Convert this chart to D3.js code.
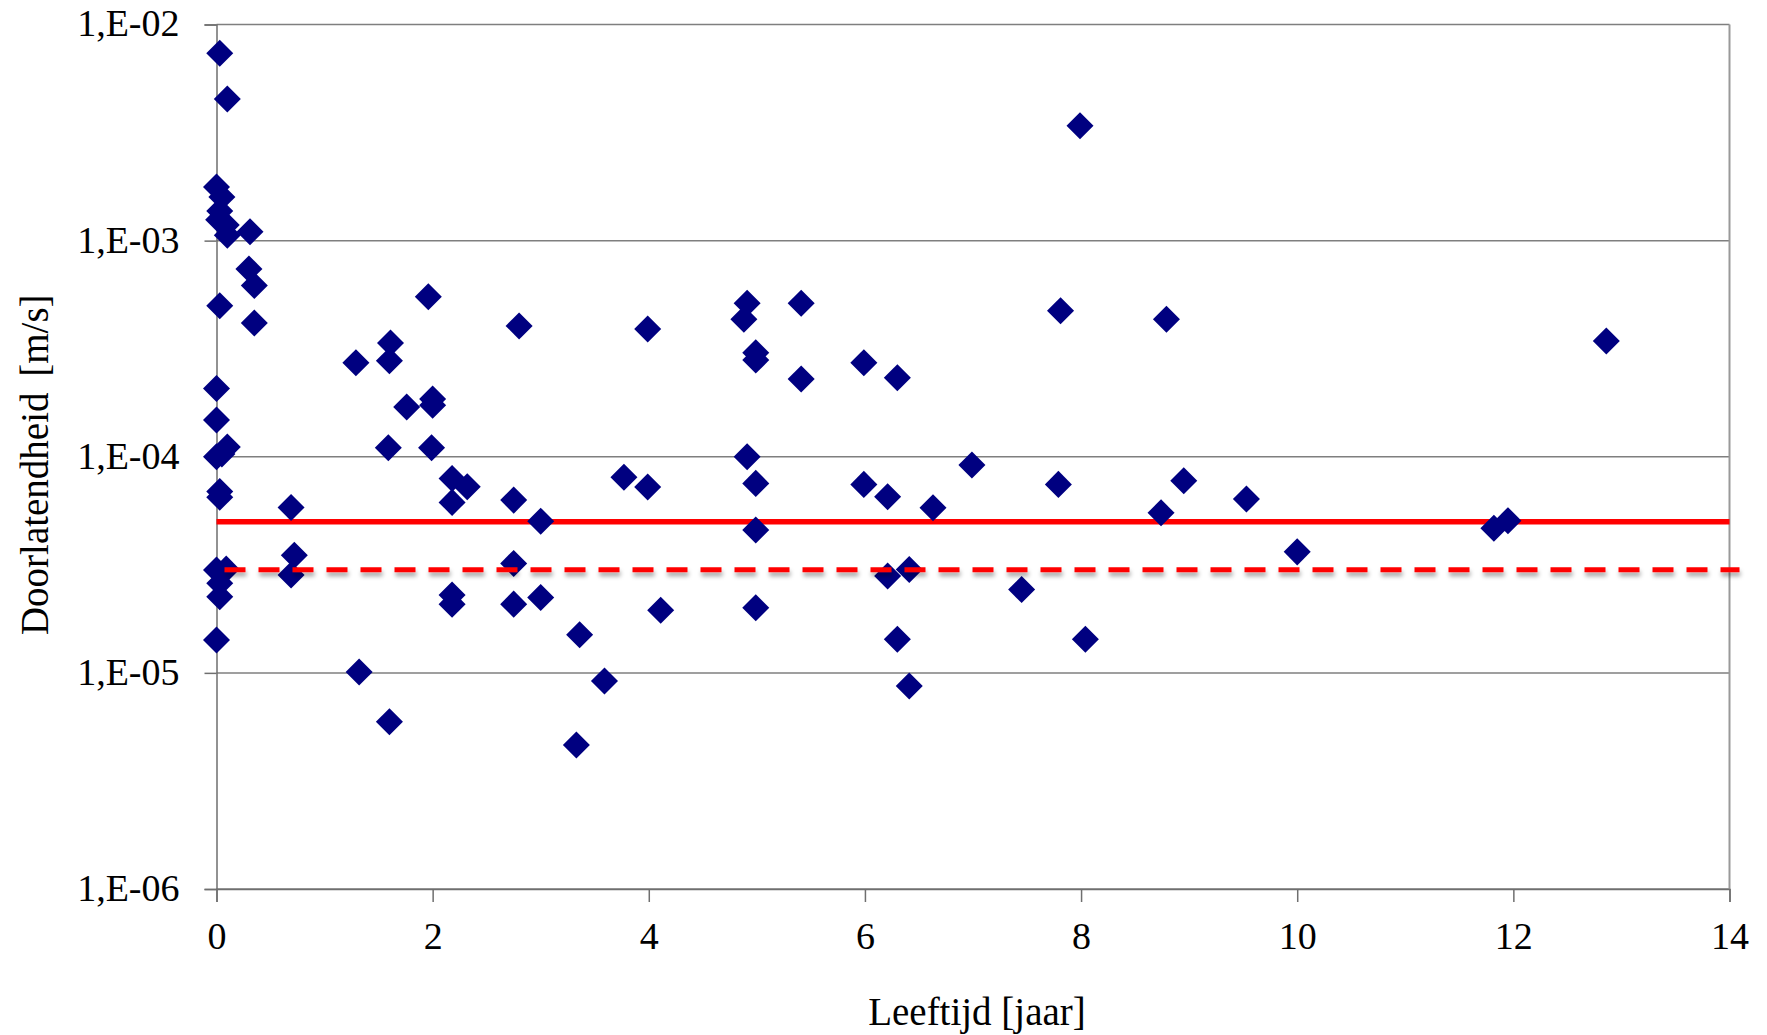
<!DOCTYPE html>
<html>
<head>
<meta charset="utf-8">
<script src="https://cdn.jsdelivr.net/npm/d3@7"></script>
<style>
  body { margin: 0; background: #fff; }
  text { font-family: "Liberation Serif", "Times New Roman", serif; fill: #000; }
</style>
</head>
<body>
<div class="chart"></div>
<script>
// measurements: age (jaar) and permeability (m/s)
const ages = [
  0.03, 0.10, 7.99, 0.00, 0.05, 0.03, 0.02, 0.09, 0.10, 0.31,
  0.30, 0.35, 0.03, 0.35, 1.96, 2.80, 1.61, 1.29, 1.60, 0.00,
  0.00, 1.76, 2.00, 2.00, 1.59, 1.99, 0.00, 0.10, 0.05, 0.03,
  0.03, 0.69, 2.18, 2.32, 2.18, 2.75, 3.00, 0.72, 0.69, 0.00,
  0.09, 0.03, 0.03, 2.75, 2.18, 2.18, 2.75, 3.00, 3.36, 0.00,
  1.32, 1.60, 3.33, 3.99, 4.91, 4.88, 5.41, 7.81, 8.79, 4.99,
  4.99, 5.41, 5.99, 6.30, 4.91, 3.77, 3.99, 4.99, 5.99, 6.21,
  6.63, 6.99, 7.79, 8.74, 8.95, 4.99, 6.21, 6.41, 7.45, 4.11,
  4.99, 6.30, 8.04, 3.59, 6.41, 12.86, 9.53, 11.82, 11.95, 10.00,
];
const permeability = [
  7.36e-3, 4.52e-3, 3.40e-3, 1.77e-3, 1.59e-3, 1.37e-3, 1.25e-3, 1.18e-3, 1.06e-3, 1.10e-3,
  7.4e-4, 6.2e-4, 5.0e-4, 4.16e-4, 5.5e-4, 4.03e-4, 3.36e-4, 2.72e-4, 2.78e-4, 2.07e-4,
  1.48e-4, 1.70e-4, 1.85e-4, 1.73e-4, 1.10e-4, 1.10e-4, 1.00e-4, 1.11e-4, 1.03e-4, 6.9e-5,
  6.5e-5, 5.83e-5, 7.94e-5, 7.26e-5, 6.15e-5, 6.3e-5, 5.03e-5, 3.5e-5, 2.84e-5, 2.99e-5,
  3.02e-5, 2.6e-5, 2.25e-5, 3.21e-5, 2.29e-5, 2.08e-5, 2.08e-5, 2.23e-5, 1.50e-5, 1.42e-5,
  1.01e-5, 5.94e-6, 4.64e-6, 3.9e-4, 5.13e-4, 4.33e-4, 5.13e-4, 4.74e-4, 4.33e-4, 3.03e-4,
  2.8e-4, 2.29e-4, 2.72e-4, 2.32e-4, 1.0e-4, 8.04e-5, 7.24e-5, 7.53e-5, 7.45e-5, 6.53e-5,
  5.81e-5, 9.16e-5, 7.45e-5, 5.5e-5, 7.74e-5, 4.58e-5, 2.81e-5, 3.01e-5, 2.43e-5, 1.95e-5,
  2.0e-5, 1.43e-5, 1.43e-5, 9.18e-6, 8.69e-6, 3.43e-4, 6.37e-5, 4.67e-5, 5.06e-5, 3.63e-5,
];

// reference levels: solid = 5E-05, dashed = 3E-05
const solidLimit = 5e-5;
const dashedLimit = 3e-5;

const xTicks = [0, 2, 4, 6, 8, 10, 12, 14];
const yTicks = [1e-2, 1e-3, 1e-4, 1e-5, 1e-6];
const yTickLabels = ["1,E-02", "1,E-03", "1,E-04", "1,E-05", "1,E-06"];

const X_TITLE = "Leeftijd [jaar]";
const Y_TITLE = "Doorlatendheid [m/s]";

const WIDTH = 1767;
const HEIGHT = 1035;
const MARGIN = { top: 24.5, right: 37.5, bottom: 146, left: 216.5 };
const FONT_SIZE = 38;
const GRID_COLOR = "#7f7f7f";
const MARKER_COLOR = "#000080";

const points = ages.map((d, i) => ({ age: d, k: permeability[i] }));

const svg = d3.select(".chart")
  .append("svg")
  .attr("width", WIDTH)
  .attr("height", HEIGHT);

const xScale = d3.scaleLinear()
  .domain([0, 14])
  .range([MARGIN.left, WIDTH - MARGIN.right]);

const yScale = d3.scaleLog()
  .domain([1e-6, 1e-2])
  .range([HEIGHT - MARGIN.bottom, MARGIN.top]);

// shadow under the dashed line (user space, a horizontal line has no bbox height)
const defs = svg.append("defs");
const shadow = defs.append("filter")
  .attr("id", "shadow")
  .attr("filterUnits", "userSpaceOnUse")
  .attr("x", 0).attr("y", 0)
  .attr("width", WIDTH).attr("height", HEIGHT);
shadow.append("feDropShadow")
  .attr("dx", 1).attr("dy", 4)
  .attr("stdDeviation", 2)
  .attr("flood-color", "#000")
  .attr("flood-opacity", 0.35);

// horizontal gridlines
svg.append("g")
  .attr("class", "grid")
  .selectAll("line")
  .data(yTicks)
  .join("line")
  .attr("x1", xScale(0))
  .attr("x2", xScale(14))
  .attr("y1", d => yScale(d))
  .attr("y2", d => yScale(d))
  .attr("stroke", GRID_COLOR)
  .attr("stroke-width", 1.5);

// right border of the plot area
svg.append("line")
  .attr("x1", xScale(14)).attr("x2", xScale(14))
  .attr("y1", yScale(1e-2)).attr("y2", yScale(1e-6))
  .attr("stroke", "#999")
  .attr("stroke-width", 2);

// y axis
const yAxis = svg.append("g")
  .attr("transform", `translate(${MARGIN.left}, 0)`)
  .call(
    d3.axisLeft(yScale)
      .tickValues(yTicks)
      .tickSize(12)
      .tickPadding(25)
      .tickFormat((d, i) => yTickLabels[i])
  );

// x axis
const xAxis = svg.append("g")
  .attr("transform", `translate(0, ${HEIGHT - MARGIN.bottom})`)
  .call(
    d3.axisBottom(xScale)
      .tickValues(xTicks)
      .tickSize(13)
      .tickPadding(20)
      .tickFormat(d3.format("d"))
  );

[xAxis, yAxis].forEach(axis => {
  axis.select(".domain").attr("stroke", "#6f6f6f").attr("stroke-width", 1.5);
  axis.selectAll(".tick line").attr("stroke", "#6f6f6f").attr("stroke-width", 1.5);
  axis.selectAll("text")
    .attr("font-size", FONT_SIZE)
    .attr("font-family", '"Liberation Serif", "Times New Roman", serif')
    .attr("fill", "#000");
});
yAxis.selectAll("text").attr("dy", "0.3em");
xAxis.selectAll("text").attr("dy", "0.71em");

// solid reference line sits under the markers
svg.append("line")
  .attr("x1", xScale(0))
  .attr("x2", xScale(14))
  .attr("y1", yScale(solidLimit))
  .attr("y2", yScale(solidLimit))
  .attr("stroke", "#ff0000")
  .attr("stroke-width", 5.5);

// data markers: rotated squares
const diamond = d3.symbol().type(d3.symbolSquare).size(365);
svg.append("g")
  .attr("class", "points")
  .selectAll("path")
  .data(points)
  .join("path")
  .attr("d", diamond)
  .attr("transform", d => `translate(${xScale(d.age)}, ${yScale(d.k)}) rotate(45)`)
  .attr("fill", MARKER_COLOR);

// dashed reference line is drawn on top of the markers
svg.append("line")
  .attr("x1", xScale(0) + 8)
  .attr("x2", xScale(14) + 10)
  .attr("y1", yScale(dashedLimit))
  .attr("y2", yScale(dashedLimit))
  .attr("stroke", "#ff0000")
  .attr("stroke-width", 5)
  .attr("stroke-dasharray", "21 13")
  .attr("filter", "url(#shadow)");

// axis titles
svg.append("text")
  .attr("x", (xScale(0) + xScale(14)) / 2 + 4)
  .attr("y", 1025)
  .attr("text-anchor", "middle")
  .attr("font-size", 39)
  .text(X_TITLE);

svg.append("text")
  .attr("transform", `translate(48, ${(yScale(1e-2) + yScale(1e-6)) / 2 + 8}) rotate(-90)`)
  .attr("text-anchor", "middle")
  .attr("font-size", 39)
  .attr("word-spacing", 6)
  .text(Y_TITLE);
</script>
</body>
</html>
